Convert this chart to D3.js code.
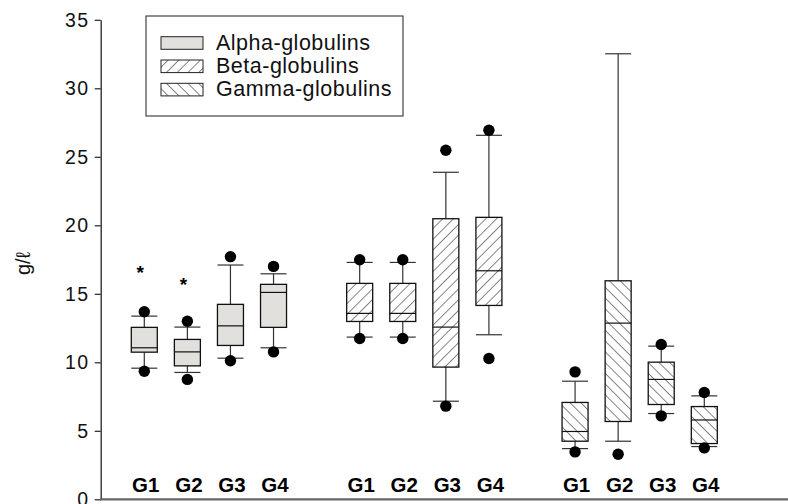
<!DOCTYPE html>
<html>
<head>
<meta charset="utf-8">
<script src="https://cdn.jsdelivr.net/npm/d3@7"></script>
<style>
  html, body { margin: 0; padding: 0; background: #fff; }
  svg { display: block; font-family: "Liberation Sans", Arial, Helvetica, sans-serif; }
</style>
</head>
<body>
<svg id="chart" width="788" height="504"></svg>
<script>
// ---- data ----
const groups = ["G1", "G2", "G3", "G4"];
const seriesNames = ["Alpha-globulins", "Beta-globulins", "Gamma-globulins"];
const seriesKeys = ["alpha", "beta", "gamma"];
const yTicks = [0, 5, 10, 15, 20, 25, 30, 35];

// each: [lower whisker, Q1, median, Q3, upper whisker]
const alphaStats = [
  [9.57, 10.74, 11.06, 12.55, 13.37],
  [9.26, 9.74, 10.76, 11.67, 12.57],
  [10.30, 11.23, 12.66, 14.23, 17.10],
  [11.06, 12.55, 15.10, 15.69, 16.46]
];
const betaStats = [
  [11.84, 12.98, 13.57, 15.76, 17.29],
  [11.84, 12.98, 13.57, 15.76, 17.29],
  [7.16, 9.65, 12.57, 20.48, 23.87],
  [12.01, 14.15, 16.68, 20.58, 26.57]
];
const gammaStats = [
  [3.70, 4.24, 4.95, 7.07, 8.62],
  [4.24, 5.68, 12.86, 15.95, 32.52],
  [6.26, 6.92, 8.75, 10.01, 11.18],
  [3.85, 4.07, 5.79, 6.77, 7.55]
];
// outlying points (dots) per group
const alphaDots = [[13.69, 9.35], [13.00, 8.75], [17.71, 10.11], [17.00, 10.76]];
const betaDots  = [[17.49, 11.74], [17.49, 11.74], [25.48, 6.80], [26.94, 10.28]];
const gammaDots = [[9.30, 3.46], [3.29], [11.30, 6.09], [7.80, 3.75]];
// extreme values (asterisks)
const alphaStars = [[16.86], [15.95], [], []];
const betaStars  = [[], [], [], []];
const gammaStars = [[], [], [], []];

// ---- build ----
const statsBySeries = { alpha: alphaStats, beta: betaStats, gamma: gammaStats };
const dotsBySeries = { alpha: alphaDots, beta: betaDots, gamma: gammaDots };
const starsBySeries = { alpha: alphaStars, beta: betaStars, gamma: gammaStars };

const slots = [];
seriesKeys.forEach((s, si) => {
  groups.forEach(g => slots.push(s + "-" + g));
  if (si < seriesKeys.length - 1) slots.push("gap" + si);
});

const boxes = [];
seriesKeys.forEach(s => {
  groups.forEach((g, gi) => {
    const st = statsBySeries[s][gi];
    boxes.push({
      key: s + "-" + g, series: s, group: g,
      lo: st[0], q1: st[1], med: st[2], q3: st[3], hi: st[4],
      dots: dotsBySeries[s][gi], stars: starsBySeries[s][gi]
    });
  });
});

const svg = d3.select("#chart");
const x = d3.scalePoint().domain(slots).range([144.3, 704.3]);
const y = d3.scaleLinear().domain([0, 35]).range([499.3, 19.8]);
const boxW = 26;

// patterns
const defs = svg.append("defs");
function hatch(id, angle) {
  const p = defs.append("pattern")
    .attr("id", id).attr("patternUnits", "userSpaceOnUse")
    .attr("width", 7.6).attr("height", 7.6)
    .attr("patternTransform", "rotate(" + angle + ")");
  p.append("rect").attr("width", 7.6).attr("height", 7.6).attr("fill", "#fff");
  p.append("line").attr("x1", 0).attr("y1", 0).attr("x2", 0).attr("y2", 7.6)
    .attr("stroke", "#222").attr("stroke-width", 1.1);
}
hatch("hatchBeta", 45);
hatch("hatchGamma", -45);
const fills = { alpha: "#e2e0dd", beta: "url(#hatchBeta)", gamma: "url(#hatchGamma)" };

// axes
const yAxis = d3.axisLeft(y).tickValues(yTicks).tickSize(6).tickSizeOuter(0).tickPadding(5);
const gy = svg.append("g").attr("transform", "translate(100.7,0)").call(yAxis);
gy.select(".domain").attr("stroke", "#222").attr("stroke-width", 1.3);
gy.selectAll(".tick line").attr("stroke", "#222").attr("stroke-width", 1.2);
gy.selectAll(".tick text").attr("font-size", 19.5).attr("fill", "#111")
  .attr("letter-spacing", 1.5).attr("font-family", "Liberation Sans, Arial, sans-serif");

svg.append("line").attr("x1", 100).attr("x2", 788).attr("y1", y(0)).attr("y2", y(0))
  .attr("stroke", "#666").attr("stroke-width", 2.2);

svg.append("text").attr("transform", "translate(30,263.5) rotate(-90)")
  .attr("text-anchor", "middle").attr("font-size", 20).attr("fill", "#111").text("g/ℓ");

// boxes
const bg = svg.append("g").selectAll("g").data(boxes).join("g")
  .attr("transform", d => "translate(" + x(d.key) + ",0)");

bg.append("line").attr("x1", 0).attr("x2", 0).attr("y1", d => y(d.hi)).attr("y2", d => y(d.q3))
  .attr("stroke", "#333").attr("stroke-width", 1.2);
bg.append("line").attr("x1", 0).attr("x2", 0).attr("y1", d => y(d.q1)).attr("y2", d => y(d.lo))
  .attr("stroke", "#333").attr("stroke-width", 1.2);
bg.append("line").attr("x1", -boxW / 2).attr("x2", boxW / 2).attr("y1", d => y(d.hi)).attr("y2", d => y(d.hi))
  .attr("stroke", "#333").attr("stroke-width", 1.2);
bg.append("line").attr("x1", -boxW / 2).attr("x2", boxW / 2).attr("y1", d => y(d.lo)).attr("y2", d => y(d.lo))
  .attr("stroke", "#333").attr("stroke-width", 1.2);
bg.append("rect").attr("x", -boxW / 2).attr("width", boxW)
  .attr("y", d => y(d.q3)).attr("height", d => y(d.q1) - y(d.q3))
  .attr("fill", d => fills[d.series]).attr("stroke", "#111").attr("stroke-width", 1.3);
bg.append("line").attr("x1", -boxW / 2).attr("x2", boxW / 2).attr("y1", d => y(d.med)).attr("y2", d => y(d.med))
  .attr("stroke", "#111").attr("stroke-width", 1.2);
bg.selectAll("circle").data(d => d.dots).join("circle")
  .attr("cx", 0).attr("cy", v => y(v)).attr("r", 5.7).attr("fill", "#000");
bg.selectAll("text.star").data(d => d.stars).join("text").attr("class", "star")
  .attr("x", -4).attr("y", v => y(v) + 10.5).attr("text-anchor", "middle")
  .attr("font-size", 19).attr("font-weight", "bold").attr("fill", "#000").text("*");

// group labels
svg.append("g").selectAll("text").data(boxes).join("text")
  .attr("x", d => x(d.key) + 1.5).attr("y", 492).attr("text-anchor", "middle")
  .attr("font-size", 20.5).attr("font-weight", "bold").attr("fill", "#000")
  .text(d => d.group);

// legend
const lg = svg.append("g");
lg.append("rect").attr("x", 146).attr("y", 16).attr("width", 257).attr("height", 100)
  .attr("fill", "#fff").attr("stroke", "#444").attr("stroke-width", 1.2);
const li = lg.selectAll("g.item").data(seriesKeys).join("g").attr("class", "item")
  .attr("transform", (d, i) => "translate(0," + (i * 23.3) + ")");
li.append("rect").attr("x", 161).attr("y", 36.7).attr("width", 42).attr("height", 12.6)
  .attr("fill", d => fills[d]).attr("stroke", "#222").attr("stroke-width", 1);
li.append("text").attr("x", 216).attr("y", 49.8).attr("font-size", 21.5).attr("letter-spacing", 0.5)
  .attr("fill", "#111").text((d, i) => seriesNames[i]);
</script>
</body>
</html>
